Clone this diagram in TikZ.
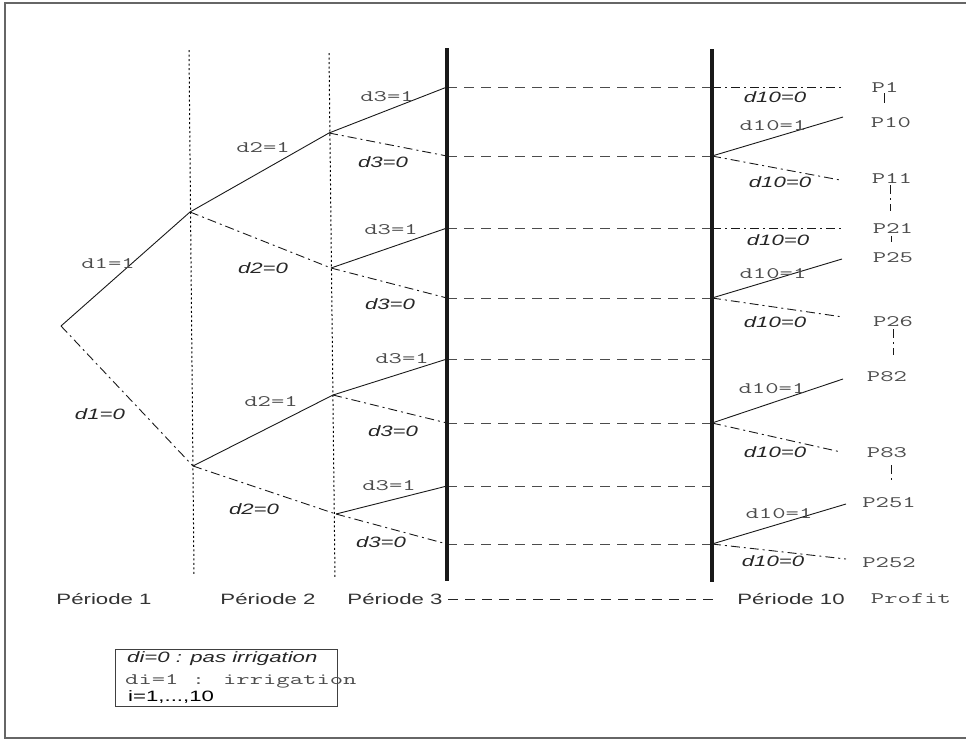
\documentclass[tikz,border=0pt]{standalone}
\usepackage{fontspec}
\newfontfamily\hv[FakeStretch=1.48]{Liberation Sans}
\newfontfamily\cour[FakeStretch=1.62]{Latin Modern Mono}
\begin{document}
\begin{tikzpicture}[x=1pt,y=-1pt,
  mono/.style={font=\cour\fontsize{16}{18}\selectfont, text=black!70, inner sep=0pt},
  sit/.style={font=\hv\itshape\fontsize{15}{18}\selectfont, text=black!85, inner sep=0pt},
  per/.style={font=\hv\fontsize{15}{18}\selectfont, text=black!80, inner sep=0pt},
  yes/.style={draw=black!90, line width=0.9pt},
  no/.style={draw=black!90, line width=0.9pt, dash pattern=on 9pt off 4pt on 2pt off 4pt},
  hdash/.style={draw=black!70, line width=1pt, dash pattern=on 10pt off 7pt},
  vdot/.style={draw=black, line width=1pt, dash pattern=on 2pt off 2.5pt},
  thick line/.style={draw=black!90, line width=3.5pt},
  frame/.style={draw=black!60, line width=1.5pt}]
\useasboundingbox (0,0) rectangle (966,740);
% frame (open on the right)
\coordinate (fr1) at (966,3);
\coordinate (fr2) at (5,3);
\coordinate (fr3) at (5,738);
\coordinate (fr4) at (966,738);
\draw[frame] (fr1) -- (fr2) -- (fr3) -- (fr4);
% period separators
\coordinate (v1t) at (189,50); \coordinate (v1b) at (194,576);
\coordinate (v2t) at (329,53); \coordinate (v2b) at (335,578);
\draw[vdot] (v1t) -- (v1b);
\draw[vdot] (v2t) -- (v2b);
\coordinate (t1t) at (447,48); \coordinate (t1b) at (447,581);
\coordinate (t2t) at (712,49); \coordinate (t2b) at (712,582);
% tree nodes
\coordinate (r) at (61,326);
\coordinate (a1) at (190,212);
\coordinate (a0) at (193,466);
\coordinate (b11) at (329,133);
\coordinate (b10) at (331,268);
\coordinate (b01) at (333,395);
\coordinate (b00) at (336,514);
\foreach \i/\y in {1/87,2/156,3/228,4/298,5/359,6/423,7/486,8/544}{
  \coordinate (c\i) at (447,\y);
  \coordinate (e\i) at (712,\y);
}
\coordinate (e5x) at (717,359);
\coordinate (e7x) at (717,486);
\coordinate (f1) at (843,87);
\coordinate (f3) at (843,228);
\coordinate (g2u) at (843,117); \coordinate (g2d) at (840,180);
\coordinate (g4u) at (842,259); \coordinate (g4d) at (843,317);
\coordinate (g6u) at (843,379); \coordinate (g6d) at (841,452);
\coordinate (g8u) at (846,504); \coordinate (g8d) at (846,559);
% horizontal dashed continuation lines
\draw[hdash] (c1) -- (e1);
\draw[hdash] (c2) -- (e2);
\draw[hdash] (c3) -- (e3);
\draw[hdash] (c4) -- (e4);
\draw[hdash] (c5) -- (e5x);
\draw[hdash] (c6) -- (e6);
\draw[hdash] (c7) -- (e7x);
\draw[hdash] (c8) -- (e8);
% thick lines
\draw[thick line] (t1t) -- (t1b);
\draw[thick line] (t2t) -- (t2b);
% branches
\draw[yes] (r) -- (a1);
\draw[no] (r) -- (a0);
\draw[yes] (a1) -- (b11);
\draw[no] (a1) -- (b10);
\draw[yes] (a0) -- (b01);
\draw[no] (a0) -- (b00);
\draw[yes] (b11) -- (c1);
\draw[no] (b11) -- (c2);
\draw[yes] (b10) -- (c3);
\draw[no] (b10) -- (c4);
\draw[yes] (b01) -- (c5);
\draw[no] (b01) -- (c6);
\draw[yes] (b00) -- (c7);
\draw[no] (b00) -- (c8);
\draw[no] (e1) -- (f1);
\draw[no] (e3) -- (f3);
\draw[yes] (e2) -- (g2u); \draw[no] (e2) -- (g2d);
\draw[yes] (e4) -- (g4u); \draw[no] (e4) -- (g4d);
\draw[yes] (e6) -- (g6u); \draw[no] (e6) -- (g6d);
\draw[yes] (e8) -- (g8u); \draw[no] (e8) -- (g8d);
% edge labels
\node[mono] (l1) at (108,264) {d1=1};
\node[sit] (l2) at (100,414) {d1=0};
\node[mono] (l3) at (263,148) {d2=1};
\node[sit] (l4) at (263,268) {d2=0};
\node[mono] (l5) at (271,402) {d2=1};
\node[sit] (l6) at (254,509) {d2=0};
\node[mono] (l7) at (387,97) {d3=1};
\node[sit] (l8) at (383,162) {d3=0};
\node[mono] (l9) at (391,230) {d3=1};
\node[sit] (l10) at (390,304) {d3=0};
\node[mono] (l11) at (402,359) {d3=1};
\node[sit] (l12) at (393,431) {d3=0};
\node[mono] (l13) at (389,486) {d3=1};
\node[sit] (l14) at (381,542) {d3=0};
\node[sit] (m1) at (775,97) {d10=0};
\node[mono] (m2) at (773,126) {d10=1};
\node[sit] (m3) at (780,182) {d10=0};
\node[sit] (m4) at (778,240) {d10=0};
\node[mono] (m5) at (773,274) {d10=1};
\node[sit] (m6) at (775,322) {d10=0};
\node[mono] (m7) at (772,389) {d10=1};
\node[sit] (m8) at (775,452) {d10=0};
\node[mono] (m9) at (779,514) {d10=1};
\node[sit] (m10) at (773,561) {d10=0};
% profits
\node[mono] (p1) at (885,88) {P1};
\node[mono] (p10) at (891,123) {P10};
\node[mono] (p11) at (892,179) {P11};
\node[mono] (p21) at (893,229) {P21};
\node[mono] (p25) at (893,258) {P25};
\node[mono] (p26) at (893,322) {P26};
\node[mono] (p82) at (887,377) {P82};
\node[mono] (p83) at (887,453) {P83};
\node[mono] (p251) at (889,503) {P251};
\node[mono] (p252) at (889,563) {P252};
\coordinate (k1a) at (884,93); \coordinate (k1b) at (884,103);
\coordinate (k2a) at (890,185); \coordinate (k2b) at (890,211);
\coordinate (k3a) at (891,236); \coordinate (k3b) at (891,242);
\coordinate (k4a) at (893,329); \coordinate (k4b) at (893,355);
\coordinate (k5a) at (891,465); \coordinate (k5b) at (891,482);
\draw[yes] (k1a) -- (k1b);
\draw[no] (k2a) -- (k2b);
\draw[yes] (k3a) -- (k3b);
\draw[no] (k4a) -- (k4b);
\draw[no] (k5a) -- (k5b);
% periods
\node[per] (P1) at (104,599) {Période 1};
\node[per] (P2) at (268,599) {Période 2};
\node[per] (P3) at (395,599) {Période 3};
\node[per] (P10) at (791,599) {Période 10};
\node[mono] (PR) at (911,599) {Profit};
\coordinate (pl1) at (448,599);
\coordinate (pl2) at (718,599);
\draw[hdash, draw=black!85] (pl1) -- (pl2);
% legend
\coordinate (lg1) at (115,649);
\coordinate (lg2) at (337,706);
\draw[draw=black!75, line width=1pt] (lg1) rectangle (lg2);
\node[sit, anchor=west] (lgA) at (127,659) {di=0 : pas irrigation};
\node[mono, anchor=west] (lgB) at (125,681) {di=1 : irrigation};
\node[per, anchor=west, text=black] (lgC) at (128,697) {i=1,...,10};
\end{tikzpicture}
\end{document}
